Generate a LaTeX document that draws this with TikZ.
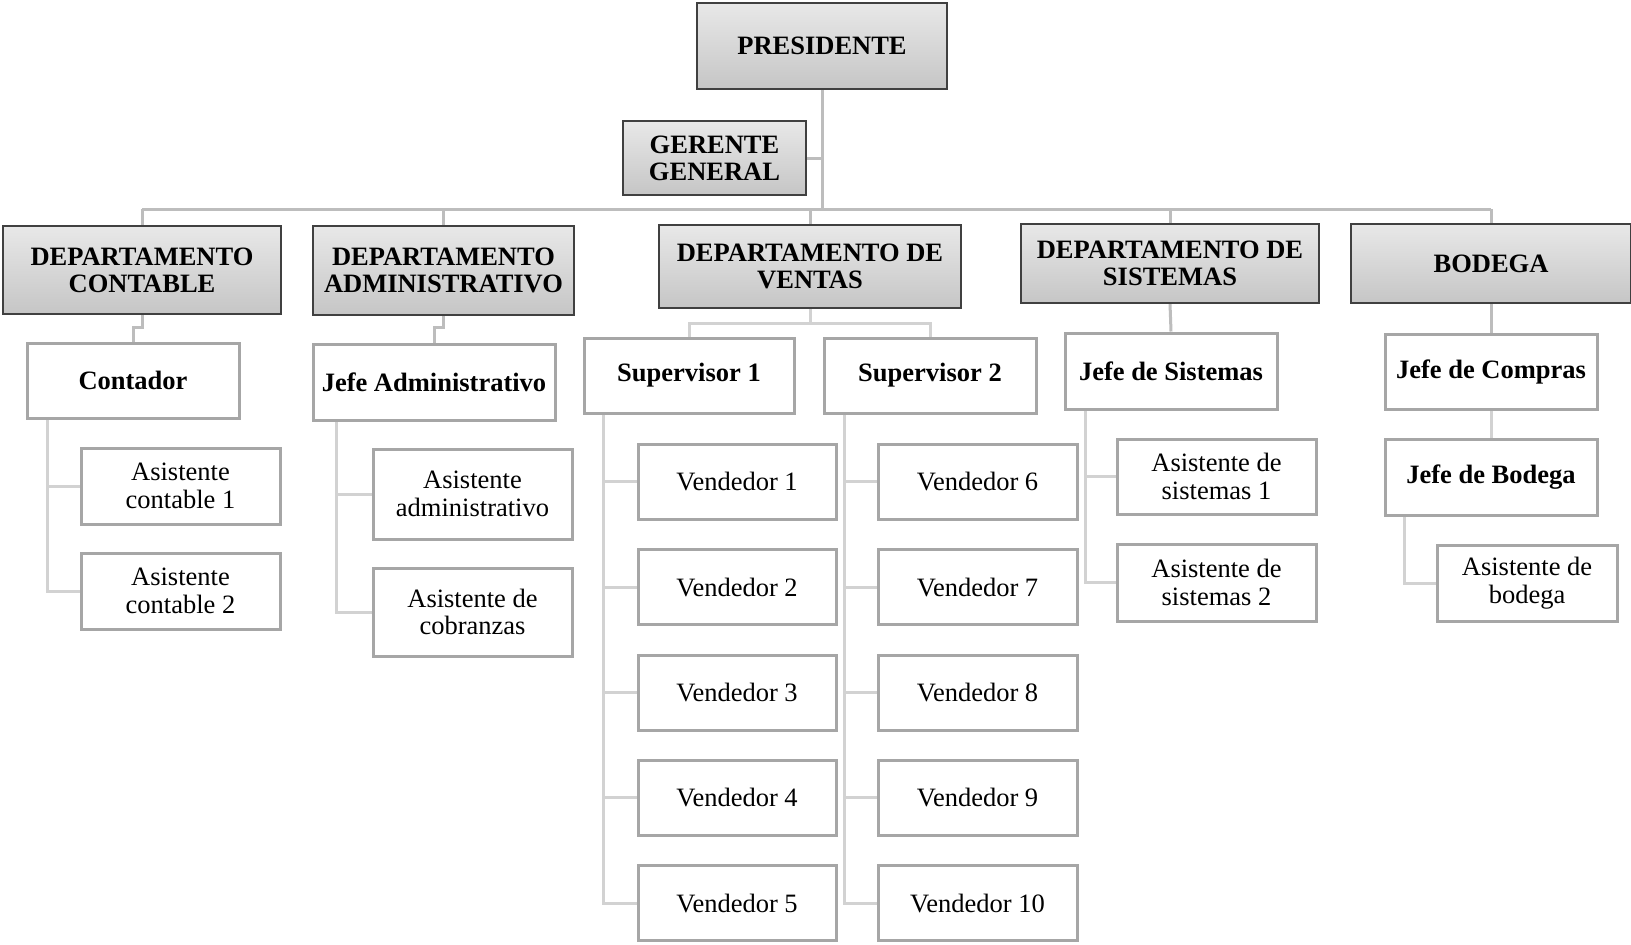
\documentclass[tikz,border=0pt]{standalone}
\usepackage{fontspec}
\setmainfont{Liberation Serif}
\usetikzlibrary{backgrounds}
\definecolor{topborder}{HTML}{404040}
\definecolor{lowborder}{HTML}{A6A6A6}
\definecolor{connA}{HTML}{BDBDBD}
\definecolor{connB}{HTML}{D2D2D2}
\begin{document}
\begin{tikzpicture}[x=1pt,y=-1pt,
  every node/.style={font=\fontsize{26.5}{27.5}\selectfont, align=center, inner sep=0pt},
  topbox/.style={draw=topborder, line width=1.2pt, top color=gray!18, bottom color=gray!45, font=\fontsize{26.5}{27}\selectfont\bfseries},
  lowbox/.style={draw=lowborder, line width=3pt, fill=white},
  bossbox/.style={lowbox, font=\fontsize{26.5}{27.5}\selectfont\bfseries},
  conA/.style={draw=connA, line width=3pt},
  conB/.style={draw=connB, line width=3pt}]
\useasboundingbox (0,0) rectangle (1631,945);

% top level
\node[topbox, minimum width=250pt, minimum height=86pt] (pres) at (822,46) {PRESIDENTE};
\node[topbox, minimum width=183pt, minimum height=74pt] (ger) at (714.5,158) {GERENTE\\GENERAL};
\node[topbox, minimum width=278pt, minimum height=88pt] (cont) at (142,270) {DEPARTAMENTO\\CONTABLE};
\node[topbox, minimum width=261pt, minimum height=89pt] (adm) at (443.5,270.5) {DEPARTAMENTO\\ADMINISTRATIVO};
\node[topbox, minimum width=302pt, minimum height=83pt] (ven) at (810,266.5) {DEPARTAMENTO DE\\VENTAS};
\node[topbox, minimum width=298pt, minimum height=79pt] (sis) at (1170,263.5) {DEPARTAMENTO DE\\SISTEMAS};
\node[topbox, minimum width=280pt, minimum height=79pt] (bod) at (1491,263.5) {BODEGA};

% bosses
\node[bossbox, minimum width=212pt, minimum height=75pt] (contador) at (133,380.5) {Contador};
\node[bossbox, minimum width=242pt, minimum height=76pt] (jadm) at (434,382) {Jefe Administrativo};
\node[bossbox, minimum width=210pt, minimum height=75pt] (sup1) at (689,375.5) {Supervisor 1};
\node[bossbox, minimum width=212pt, minimum height=75pt] (sup2) at (930,375.5) {Supervisor 2};
\node[bossbox, minimum width=212pt, minimum height=76pt] (jsis) at (1171,371) {Jefe de Sistemas};
\node[bossbox, minimum width=212pt, minimum height=75pt] (jcom) at (1491,371.5) {Jefe de Compras};
\node[bossbox, minimum width=212pt, minimum height=76pt] (jbod) at (1491,477) {Jefe de Bodega};

% staff
\node[lowbox, minimum width=199pt, minimum height=76pt] (ac1) at (180.5,486) {Asistente\\contable 1};
\node[lowbox, minimum width=199pt, minimum height=76pt] (ac2) at (180.5,591) {Asistente\\contable 2};
\node[lowbox, minimum width=199pt, minimum height=90pt] (aadm) at (472.5,494) {Asistente\\administrativo};
\node[lowbox, minimum width=199pt, minimum height=88pt] (acob) at (472.5,612) {Asistente de\\cobranzas};
\node[lowbox, minimum width=198pt, minimum height=75pt] (v1) at (737,481.6) {Vendedor 1};
\node[lowbox, minimum width=198pt, minimum height=75pt] (v2) at (737,587.2) {Vendedor 2};
\node[lowbox, minimum width=198pt, minimum height=75pt] (v3) at (737,692.8) {Vendedor 3};
\node[lowbox, minimum width=198pt, minimum height=75pt] (v4) at (737,797.8) {Vendedor 4};
\node[lowbox, minimum width=198pt, minimum height=75pt] (v5) at (737,903.4) {Vendedor 5};
\node[lowbox, minimum width=199pt, minimum height=75pt] (v6) at (977.5,481.6) {Vendedor 6};
\node[lowbox, minimum width=199pt, minimum height=75pt] (v7) at (977.5,587.2) {Vendedor 7};
\node[lowbox, minimum width=199pt, minimum height=75pt] (v8) at (977.5,692.8) {Vendedor 8};
\node[lowbox, minimum width=199pt, minimum height=75pt] (v9) at (977.5,797.8) {Vendedor 9};
\node[lowbox, minimum width=199pt, minimum height=75pt] (v10) at (977.5,903.4) {Vendedor 10};
\node[lowbox, minimum width=199pt, minimum height=75pt] (as1) at (1216.5,476.5) {Asistente de\\sistemas 1};
\node[lowbox, minimum width=199pt, minimum height=77pt] (as2) at (1216.5,582.5) {Asistente de\\sistemas 2};
\node[lowbox, minimum width=180pt, minimum height=76pt] (abod) at (1527,583) {Asistente de\\bodega};

\coordinate (barL) at (142,209);
\coordinate (barR) at (1491,209);
\coordinate (venbar) at (810,323);

\begin{scope}[on background layer]
  \fill[white] (0,0) rectangle (1631,945);
  % upper level
  \draw[conA] (pres.south) -- (pres.south |- barL);
  \draw[conA] (ger.east) -- (ger.east -| pres.south);
  \draw[conA] (barL) -- (barR);
  \draw[conA] (cont.north) -- (cont.north |- barL);
  \draw[conA] (adm.north) -- (adm.north |- barL);
  \draw[conA] (ven.north) -- (ven.north |- barL);
  \draw[conA] (sis.north) -- (sis.north |- barL);
  \draw[conA] (bod.north) -- (bod.north |- barL);
  % dept to boss
  \draw[conA] (cont.south) -- ++(0,13) -| (contador.north);
  \draw[conA] (adm.south) -- ++(0,12) -| (jadm.north);
  \draw[conB] (ven.south) -- (venbar);
  \draw[conB] (sup1.north) |- (venbar) -| (sup2.north);
  \draw[conA] (sis.south) -- (jsis.north);
  \draw[conA] (bod.south) -- (jcom.north);
  \draw[conB] (jcom.south) -- (jbod.north);
  % staff
  \draw[conB] ([xshift=22pt]contador.south west) |- (ac1.west);
  \draw[conB] ([xshift=22pt]contador.south west) |- (ac2.west);
  \draw[conB] ([xshift=25pt]jadm.south west) |- (aadm.west);
  \draw[conB] ([xshift=25pt]jadm.south west) |- (acob.west);
  \foreach \v in {v1,v2,v3,v4,v5}
    \draw[conB] ([xshift=21pt]sup1.south west) |- (\v.west);
  \foreach \v in {v6,v7,v8,v9,v10}
    \draw[conB] ([xshift=22pt]sup2.south west) |- (\v.west);
  \draw[conB] ([xshift=22pt]jsis.south west) |- (as1.west);
  \draw[conB] ([xshift=22pt]jsis.south west) |- (as2.west);
  \draw[conB] ([xshift=21pt]jbod.south west) |- (abod.west);
\end{scope}
\end{tikzpicture}
\end{document}
